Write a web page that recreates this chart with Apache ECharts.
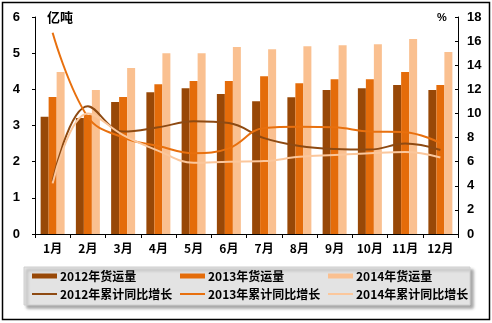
<!DOCTYPE html>
<html>
<head>
<meta charset="utf-8">
<script src="https://cdn.jsdelivr.net/npm/echarts@6/dist/echarts.min.js"></script>
<style>
  html, body { margin: 0; padding: 0; background: #fff; }
  #chart { width: 492px; height: 323px; }
</style>
</head>
<body>
<div id="chart"></div>
<script>
// Monthly freight volume (亿吨) and cumulative year-on-year growth (%)
const months = ['1月', '2月', '3月', '4月', '5月', '6月', '7月', '8月', '9月', '10月', '11月', '12月'];

const volume2012 = [3.24, 3.21, 3.65, 3.92, 4.03, 3.87, 3.67, 3.78, 3.98, 4.03, 4.12, 3.98];
const volume2013 = [3.79, 3.29, 3.79, 4.14, 4.23, 4.23, 4.36, 4.17, 4.28, 4.28, 4.48, 4.12];
const volume2014 = [4.48, 3.98, 4.59, 5.00, 5.00, 5.17, 5.11, 5.19, 5.22, 5.25, 5.39, 5.03];

const growth2012 = [4.4, 10.6, 8.5, 8.85, 9.35, 9.2, 7.95, 7.3, 7.05, 7.0, 7.5, 6.97];
const growth2013 = [16.7, 9.7, 8.0, 7.3, 6.7, 7.1, 8.8, 8.9, 8.85, 8.5, 8.45, 7.55];
const growth2014 = [4.2, 10.0, 8.2, 6.9, 5.9, 6.0, 6.05, 6.4, 6.55, 6.7, 6.8, 6.35];

const leftTicks = [0, 6, 1];   // min, max, interval
const rightTicks = [0, 18, 2];

const seriesNames = [
  '2012年货运量', '2013年货运量', '2014年货运量',
  '2012年累计同比增长', '2013年累计同比增长', '2014年累计同比增长'
];
const colors = ['#984807', '#E46C0A', '#FAC090'];
const lineColors = ['#8E4A12', '#E8700E', '#FBC79C'];

const labelFont = 'Arial, "Liberation Sans", "Noto Sans CJK SC", sans-serif';
const cjkFont = '"Noto Sans CJK SC", "Liberation Sans", sans-serif';

const chart = echarts.init(document.getElementById('chart'), null, { renderer: 'canvas' });

const barSeries = [volume2012, volume2013, volume2014].map((d, i) => ({
  name: seriesNames[i],
  type: 'bar',
  yAxisIndex: 0,
  data: d,
  barWidth: 8,
  barGap: '0%',
  itemStyle: { color: colors[i] },
  z: 2
}));

const lineSeries = [growth2012, growth2013, growth2014].map((d, i) => ({
  name: seriesNames[i + 3],
  type: 'line',
  yAxisIndex: 1,
  data: d,
  smooth: 0.4,
  showSymbol: false,
  symbol: 'none',
  lineStyle: { color: lineColors[i], width: 2 },
  itemStyle: { color: lineColors[i] },
  z: 5
}));

// Legend entries laid out as a 3 x 2 grid inside the grey box
const legendCols = [32, 180, 328];
const legendRows = [270, 288];
const legends = seriesNames.map((name, k) => {
  const col = k % 3, row = Math.floor(k / 3);
  return {
    data: [name],
    left: legendCols[col],
    top: legendRows[row],
    padding: 0,
    itemGap: 0,
    icon: 'rect',
    itemWidth: 25,
    itemHeight: row === 0 ? 5 : 2,
    selectedMode: false,
    z: 10,
    textStyle: {
      fontFamily: cjkFont,
      fontWeight: 'bold',
      fontSize: 12,
      color: '#000',
      padding: [0, 0, 0, -2]
    }
  };
});

chart.setOption({
  backgroundColor: '#fff',
  animation: false,
  color: colors.concat(lineColors),
  grid: {
    left: 35, right: 34, top: 17, bottom: 89,
    containLabel: false,
    outerBoundsMode: 'none'
  },
  legend: legends,
  xAxis: {
    type: 'category',
    data: months,
    axisLine: { lineStyle: { color: '#000', width: 1 } },
    axisTick: { show: true, length: 4, lineStyle: { color: '#000' } },
    axisLabel: {
      color: '#000', fontWeight: 'bold', fontSize: 12,
      fontFamily: cjkFont, margin: 8
    },
    splitLine: { show: false }
  },
  yAxis: [
    {
      type: 'value',
      min: leftTicks[0], max: leftTicks[1], interval: leftTicks[2],
      position: 'left',
      axisLine: { show: true, lineStyle: { color: '#000', width: 1 } },
      axisTick: { show: true, length: 3, lineStyle: { color: '#000' } },
      axisLabel: {
        color: '#000', fontWeight: 'bold', fontSize: 13,
        fontFamily: labelFont, margin: 15
      },
      splitLine: { show: false }
    },
    {
      type: 'value',
      min: rightTicks[0], max: rightTicks[1], interval: rightTicks[2],
      position: 'right',
      axisLine: { show: true, lineStyle: { color: '#000', width: 1 } },
      axisTick: { show: true, inside: true, length: 3, lineStyle: { color: '#000' } },
      axisLabel: {
        color: '#000', fontWeight: 'bold', fontSize: 13,
        fontFamily: labelFont, margin: 9
      },
      splitLine: { show: false }
    }
  ],
  graphic: [
    {
      type: 'rect',
      z: -10,
      silent: true,
      shape: { x: 2.5, y: 2.5, width: 487, height: 317 },
      style: { fill: 'none', stroke: '#000', lineWidth: 1.5 }
    },
    {
      type: 'rect',
      z: 1,
      silent: true,
      shape: { x: 24, y: 267, width: 446, height: 38 },
      style: {
        fill: '#e3e3e3',
        stroke: '#d0d0d0',
        lineWidth: 1,
        shadowBlur: 3,
        shadowOffsetX: 3,
        shadowOffsetY: 3,
        shadowColor: 'rgba(0,0,0,0.35)'
      }
    },
    {
      type: 'text',
      z: 10,
      left: 47,
      top: 11,
      style: {
        text: '亿吨',
        font: 'bold 13px ' + cjkFont,
        fill: '#000'
      }
    },
    {
      type: 'text',
      z: 10,
      left: 437,
      top: 12,
      style: {
        text: '%',
        font: 'bold 11px ' + labelFont,
        fill: '#000'
      }
    }
  ],
  series: barSeries.concat(lineSeries)
});
</script>
</body>
</html>
